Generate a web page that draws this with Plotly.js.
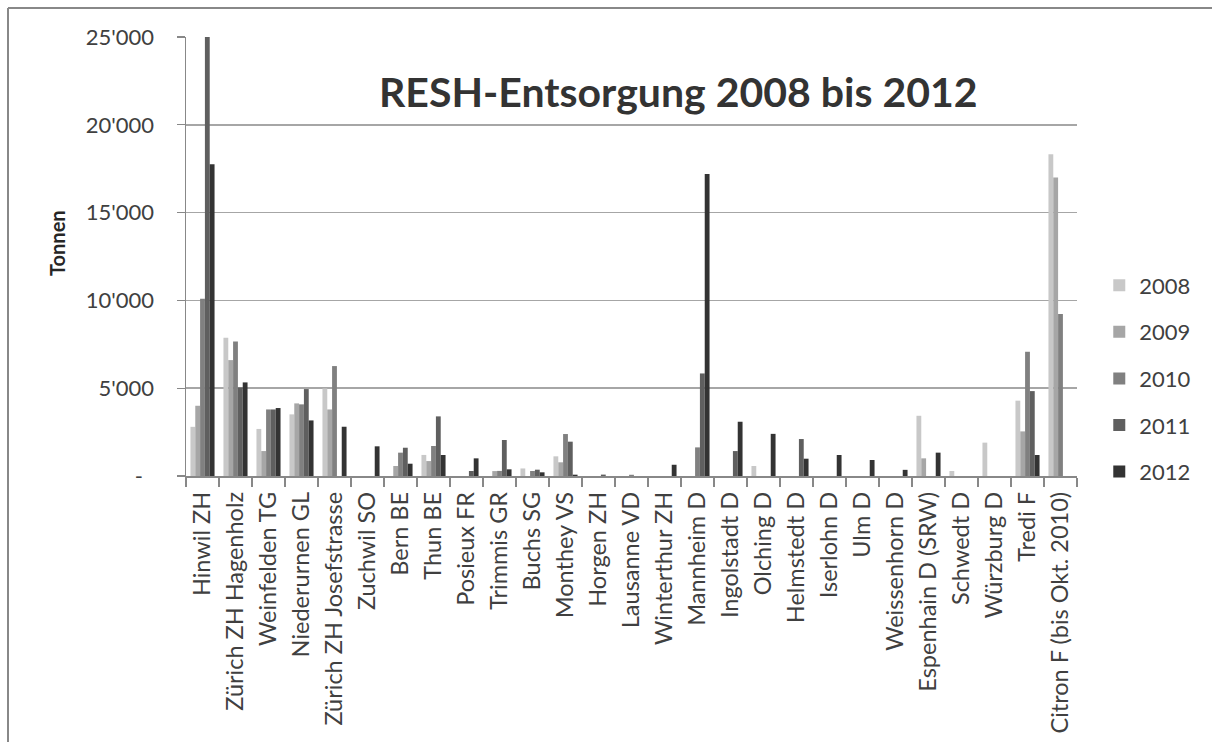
<!DOCTYPE html>
<html>
<head>
<meta charset="utf-8">
<script src="https://cdn.plot.ly/plotly-3.0.1.min.js"></script>
<style>html,body{margin:0;padding:0;background:#fff;}#chart{width:1212px;height:742px;}</style>
</head>
<body>
<div id="chart"></div>
<script>
const categories = ["Hinwil ZH","Zürich ZH Hagenholz","Weinfelden TG","Niederurnen GL","Zürich ZH Josefstrasse","Zuchwil SO","Bern BE","Thun BE","Posieux FR","Trimmis GR","Buchs SG","Monthey VS","Horgen ZH","Lausanne VD","Winterthur ZH","Mannheim D","Ingolstadt D","Olching D","Helmstedt D","Iserlohn D","Ulm D","Weissenhorn D","Espenhain D (SRW)","Schwedt D","Würzburg D","Tredi F","Citron F (bis Okt. 2010)"];

const y2008 = [2800,7870,2680,3510,4990,0,0,1200,0,0,430,1120,0,0,0,0,0,570,0,0,0,0,3430,285,1900,4290,18320];
const y2009 = [4000,6600,1420,4135,3790,0,570,850,0,280,0,780,0,0,0,0,0,0,0,0,0,0,1005,0,0,2540,17000];
const y2010 = [10100,7660,3790,4080,6260,0,1330,1710,0,290,285,2390,0,70,0,1630,0,0,0,0,0,0,0,0,0,7075,9220];
const y2011 = [25000,5045,3790,4950,0,0,1610,3395,285,2050,360,1955,80,0,0,5840,1420,0,2105,0,0,0,0,0,0,4835,0];
const y2012 = [17750,5330,3870,3165,2805,1690,700,1195,1005,380,210,75,0,0,640,17200,3090,2400,985,1195,910,350,1330,0,0,1195,0];

const seriesNames = ["2008","2009","2010","2011","2012"];
const seriesValues = [y2008,y2009,y2010,y2011,y2012];
const seriesColors = ["#c8c8c8","#a6a6a6","#808080","#5f5f5f","#333333"];

const yTickVals = [0,5000,10000,15000,20000,25000];
const yTickText = ["-\u00a0\u00a0","5'000","10'000","15'000","20'000","25'000"];

const traces = seriesNames.map((n,i)=>({
  type:'bar', name:n, x:categories, y:seriesValues[i],
  marker:{color:seriesColors[i], line:{width:0}},
  legendgroup:'g'+i, hoverinfo:'x+y+name'
}));

const FONT = 'Lato, "Open Sans", sans-serif';
const bx = (8-186)/891, by = (476-8)/439;
const layout = {
  width:1212, height:742,
  margin:{l:186, r:135, t:37, b:266},
  paper_bgcolor:'#ffffff', plot_bgcolor:'#ffffff',
  font:{family:FONT, color:'#404040', size:22},
  barmode:'group', bargap:0.27, bargroupgap:0,
  showlegend:true,
  legend:{x:1.025, xanchor:'left', y:0.482, yanchor:'top', tracegroupgap:15,
          font:{family:FONT, size:22, color:'#404040'}, itemwidth:30, bgcolor:'rgba(0,0,0,0)'},
  xaxis:{type:'category', tickangle:-90, ticks:'outside', tickson:'boundaries', ticklen:9,
         tickcolor:'#888888', tickwidth:1.2, showline:true, linecolor:'#888888', linewidth:1.5,
         showgrid:false, tickfont:{family:FONT, size:23.5, color:'#404040'}, ticklabelstandoff:5,
         fixedrange:true},
  yaxis:{range:[0,25000], tickvals:yTickVals, ticktext:yTickText, ticks:'outside', ticklen:8,
         tickcolor:'#888888', tickwidth:1.2, showline:true, linecolor:'#888888', linewidth:1.5,
         showgrid:true, gridcolor:'#a6a6a6', gridwidth:1.5, zeroline:false,
         tickfont:{family:FONT, size:22, color:'#404040'}, ticklabelstandoff:18, fixedrange:true},
  annotations:[
    {text:'<b>RESH-Entsorgung 2008 bis 2012</b>', xref:'paper', yref:'paper', x:0.553, y:0.875,
     xanchor:'center', yanchor:'middle', showarrow:false, font:{family:FONT, size:41, color:'#333333'}},
    {text:'<b>Tonnen</b>', xref:'paper', yref:'paper', x:(57-186)/891, y:(476-243)/439,
     xanchor:'center', yanchor:'middle', showarrow:false, textangle:-90,
     font:{family:FONT, size:20, color:'#262626'}}
  ],
  shapes:[
    {type:'line', xref:'paper', yref:'paper', x0:bx, x1:bx, y0:-0.8, y1:by,
     line:{color:'#888888', width:2}, layer:'below'},
    {type:'line', xref:'paper', yref:'paper', x0:bx, x1:1.3, y0:by, y1:by,
     line:{color:'#888888', width:2}, layer:'below'}
  ]
};

Plotly.newPlot('chart', traces, layout, {displayModeBar:false, staticPlot:true});
</script>
</body>
</html>
